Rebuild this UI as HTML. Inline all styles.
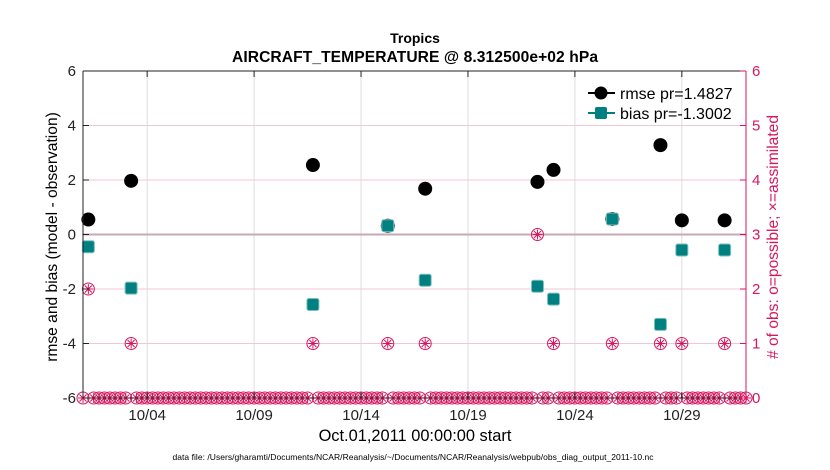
<!DOCTYPE html>
<html><head><meta charset="utf-8">
<style>
html,body{margin:0;padding:0;background:#fff;}
svg{display:block;font-family:"Liberation Sans",sans-serif;}
</style></head>
<body>
<svg id="chart" width="830" height="470" xmlns="http://www.w3.org/2000/svg">
<g id="grid"></g>
<g id="marks"></g>
<g id="axes"></g>
<text x="415" y="43" text-anchor="middle" font-size="14" font-weight="bold">Tropics</text>
<text x="415" y="62" text-anchor="middle" font-size="15.6" font-weight="bold" textLength="366">AIRCRAFT_TEMPERATURE @ 8.312500e+02 hPa</text>
<text x="415" y="441" text-anchor="middle" font-size="16.4">Oct.01,2011 00:00:00 start</text>
<text transform="translate(57,237) rotate(-90)" text-anchor="middle" font-size="15.6">rmse and bias (model - observation)</text>
<text transform="translate(778,237) rotate(-90)" text-anchor="middle" font-size="15.6" fill="#d6175f"># of obs: o=possible; ×=assimilated</text>
<text x="413" y="460" text-anchor="middle" font-size="8.5" textLength="481">data file: /Users/gharamti/Documents/NCAR/Reanalysis/~/Documents/NCAR/Reanalysis/webpub/obs_diag_output_2011-10.nc</text>
<g>
<line x1="588" y1="93" x2="615" y2="93" stroke="#000" stroke-width="2"/>
<circle cx="601" cy="93" r="6.5" fill="#000"/>
<text x="620" y="99" font-size="16">rmse pr=1.4827</text>
<line x1="588" y1="113" x2="615" y2="113" stroke="#008080" stroke-width="2"/>
<rect x="595" y="107" width="12" height="12" rx="2" fill="#008080"/>
<text x="620" y="119" font-size="16">bias pr=-1.3002</text>
</g>
</svg>
<script>
const days = [0.25, 2.25, 10.75, 14.25, 16, 21.25, 22, 24.75, 27, 28, 30];
const rmse = [0.55, 1.97, 2.55, 0.32, 1.68, 1.93, 2.37, 0.57, 3.28, 0.52, 0.52];
const bias = [-0.45, -1.97, -2.57, 0.32, -1.68, -1.9, -2.37, 0.57, -3.3, -0.57, -0.57];
const counts = [2, 1, 1, 1, 1, 3, 1, 1, 1, 1, 1];
const xTickDays = [3, 8, 13, 18, 23, 28];
const xTickLabels = ["10/04", "10/09", "10/14", "10/19", "10/24", "10/29"];
const yTicks = [-6, -4, -2, 0, 2, 4, 6];
const rTicks = [0, 1, 2, 3, 4, 5, 6];

const NS = "http://www.w3.org/2000/svg";
const X0 = 83, X1 = 746, Y0 = 71, Y1 = 398;
const xs = d => X0 + d / 31 * (X1 - X0);
const ys = v => Y0 + (6 - v) / 12 * (Y1 - Y0);
const yc = c => ys(-6 + c * 2);
function mk(parent, tag, attrs) {
  const e = document.createElementNS(NS, tag);
  for (const k in attrs) e.setAttribute(k, attrs[k]);
  document.getElementById(parent).appendChild(e);
  return e;
}
xTickDays.forEach(d => {
  const l = mk("grid", "line", {x1: xs(d), x2: xs(d), y1: Y0, y2: Y1, stroke: "#ddd", "stroke-width": 1});
  
  
});
yTicks.forEach(v => {
  const l = mk("grid", "line", {x1: X0, x2: X1, y1: ys(v), y2: ys(v), stroke: "#f3c6d6", "stroke-width": 1});
  
  
});
const zl = mk("grid", "line", {x1: X0, x2: X1, y1: ys(0), y2: ys(0), stroke: "#c8a8b4", "stroke-width": 2});



function countMarker(cx, cy) {
  const g = mk("marks", "g", {stroke: "#d6175f", fill: "none", "stroke-width": 1});
  
  
  const c = document.createElementNS(NS, "circle");
  c.setAttribute("cx", cx); c.setAttribute("cy", cy); c.setAttribute("r", 6);
  g.appendChild(c);
  for (const a of [0, 45, 90, 135]) {
    const r = a * Math.PI / 180, dx = 5 * Math.cos(r), dy = 5 * Math.sin(r);
    const l = document.createElementNS(NS, "line");
    l.setAttribute("x1", cx - dx); l.setAttribute("x2", cx + dx);
    l.setAttribute("y1", cy - dy); l.setAttribute("y2", cy + dy);
    g.appendChild(l);
  }
}
for (let i = 0; i <= 124; i++) {
  const d = i * 0.25;
  const k = days.indexOf(d);
  countMarker(xs(d), yc(k >= 0 ? counts[k] : 0));
}
days.forEach((d, i) => {
  const c = mk("marks", "circle", {cx: xs(d), cy: ys(rmse[i]), r: 7, fill: "#000"});
  
  
});
days.forEach((d, i) => {
  const r = mk("marks", "rect", {x: xs(d) - 6, y: ys(bias[i]) - 6, width: 12, height: 12, rx: 2, fill: "#008080", stroke: "#7fbfbf", "stroke-width": 1});
  
  
});
const frame = [
  [X0, Y0, X1, Y0, "#222"], [X0, Y1, X1, Y1, "#222"], [X0, Y0, X0, Y1, "#222"], [X1, Y0, X1, Y1, "#d6175f"]
];
frame.forEach(f => {
  const l = mk("axes", "line", {x1: f[0], y1: f[1], x2: f[2], y2: f[3], stroke: f[4], "stroke-width": 1});
  
  
});
xTickDays.forEach((d, i) => {
  mk("axes", "line", {x1: xs(d), x2: xs(d), y1: Y1, y2: Y1 - 6, stroke: "#222"});
  mk("axes", "line", {x1: xs(d), x2: xs(d), y1: Y0, y2: Y0 + 6, stroke: "#222"});
  const t = mk("axes", "text", {x: xs(d), y: Y1 + 22, "text-anchor": "middle", "font-size": 15, fill: "#222"});
  t.textContent = xTickLabels[i];
  
  
});
yTicks.forEach(v => {
  mk("axes", "line", {x1: X0, x2: X0 + 6, y1: ys(v), y2: ys(v), stroke: "#222"});
  const t = mk("axes", "text", {x: X0 - 7, y: ys(v) + 5, "text-anchor": "end", "font-size": 15, fill: "#222"});
  t.textContent = v;
  
  
});
rTicks.forEach(c => {
  mk("axes", "line", {x1: X1, x2: X1 - 6, y1: yc(c), y2: yc(c), stroke: "#d6175f"});
  const t = mk("axes", "text", {x: X1 + 6, y: yc(c) + 5, "font-size": 15, fill: "#d6175f"});
  t.textContent = c;
  
  
});
</script>
</body></html>
